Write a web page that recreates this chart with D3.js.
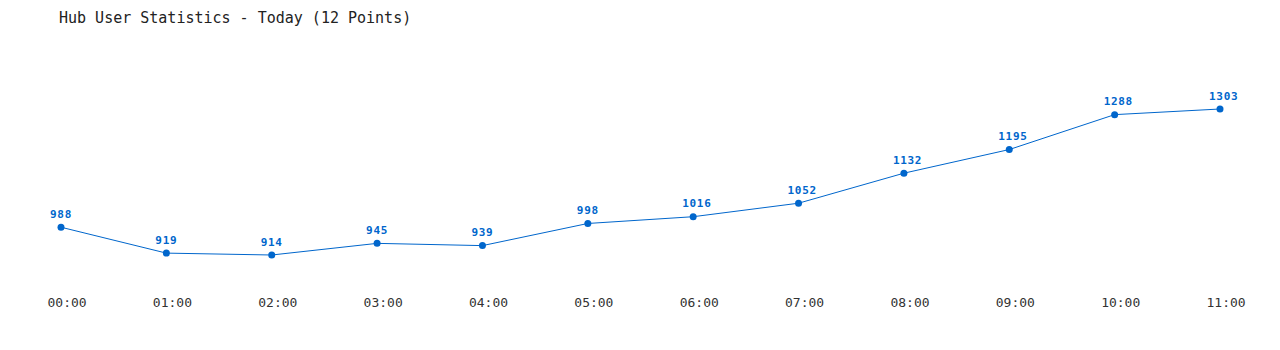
<!DOCTYPE html>
<html>
<head>
<meta charset="utf-8">
<script src="https://cdn.jsdelivr.net/npm/d3@7"></script>
<style>
  body { margin: 0; background: #fff; }
  svg { display: block; }
</style>
</head>
<body>
<div id="chart"></div>
<script>
// Hourly hub users
const hours = ["00:00", "01:00", "02:00", "03:00", "04:00", "05:00",
               "06:00", "07:00", "08:00", "09:00", "10:00", "11:00"];
const users = [988, 919, 914, 945, 939, 998, 1016, 1052, 1132, 1195, 1288, 1303];

const width = 1280;
const height = 350;
const lineColor = "#0066cc";
const font = "'DejaVu Sans Mono', 'Liberation Mono', monospace";

const svg = d3.select("#chart")
    .append("svg")
    .attr("width", width)
    .attr("height", height);

// Title
svg.append("text")
    .attr("x", 59)
    .attr("y", 23)
    .style("font-family", font)
    .style("font-size", "15px")
    .style("fill", "#222")
    .text("Hub User Statistics - Today (12 Points)");

const x = d3.scalePoint()
    .domain(hours)
    .range([61, 1220]);

const y = d3.scaleLinear()
    .domain([d3.min(users), d3.max(users)])
    .range([255, 109]);

const data = hours.map((h, i) => ({ hour: h, value: users[i] }));

// X axis labels, no line or ticks; labels start a little left of each point
const xAxis = svg.append("g")
    .attr("transform", "translate(0,298)")
    .call(d3.axisBottom(x).tickSize(0).tickPadding(0));
xAxis.select(".domain").remove();
xAxis.selectAll("text")
    .attr("text-anchor", "start")
    .attr("x", -14)
    .style("font-family", font)
    .style("font-size", "13px")
    .style("fill", "#333");

// Line
const line = d3.line()
    .x(d => x(d.hour))
    .y(d => y(d.value));

svg.append("path")
    .datum(data)
    .attr("d", line)
    .attr("fill", "none")
    .attr("stroke", lineColor)
    .attr("stroke-width", 1);

// Points
svg.selectAll("circle.pt")
    .data(data)
    .enter().append("circle")
    .attr("class", "pt")
    .attr("cx", d => x(d.hour))
    .attr("cy", d => y(d.value))
    .attr("r", 3.5)
    .attr("fill", lineColor);

// Value labels
svg.selectAll("text.val")
    .data(data)
    .enter().append("text")
    .attr("class", "val")
    .attr("x", d => x(d.hour) - 11)
    .attr("y", d => y(d.value) - 9.5)
    .style("font-family", font)
    .style("font-size", "11px")
    .style("font-weight", "bold")
    .style("letter-spacing", "0.7px")
    .style("fill", lineColor)
    .text(d => d.value);
</script>
</body>
</html>
